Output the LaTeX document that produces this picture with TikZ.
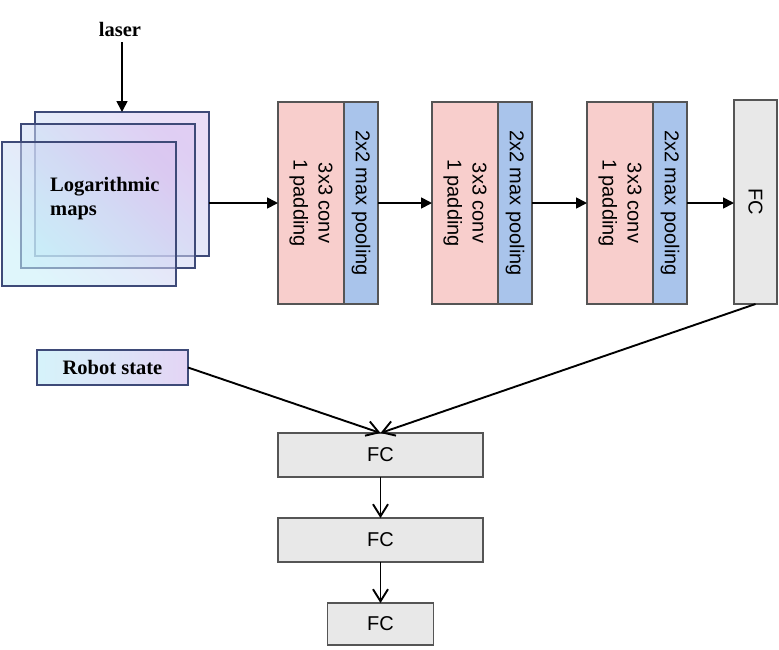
\documentclass[tikz,border=0pt]{standalone}
\usepackage{fontspec}
\setmainfont{Liberation Serif}
\setsansfont{Liberation Sans}
\usetikzlibrary{arrows.meta}
\definecolor{convred}{HTML}{F8CECC}
\definecolor{poolblue}{HTML}{A9C4EB}
\definecolor{fcgray}{HTML}{E8E8E8}
\definecolor{boxline}{HTML}{555555}
\definecolor{mapline}{HTML}{3E4A78}
\definecolor{mapcyan}{HTML}{C4EEF8}
\definecolor{mappurple}{HTML}{D8C2F0}
\tikzset{
  blk/.style={draw=boxline,line width=1.6pt,inner sep=0pt,outer sep=0pt,anchor=north west},   % plain box
  convbox/.style={blk,fill=convred,minimum width=66pt,minimum height=202pt},
  poolbox/.style={blk,fill=poolblue,minimum width=34pt,minimum height=202pt},
  fcbox/.style={blk,fill=fcgray,font=\sffamily\fontsize{20}{24}\selectfont},
  mapbox/.style={draw=mapline,line width=1.5pt,inner sep=0pt,outer sep=0pt,anchor=north west,
    minimum width=174pt,minimum height=144pt,left color=mapcyan,right color=mappurple,
    shading angle=135,fill opacity=0.55},
  robotbox/.style={draw=mapline,line width=1.5pt,inner sep=0pt,outer sep=0pt,anchor=north west,
    minimum width=151pt,minimum height=35pt,left color=mapcyan!70!white,right color=mappurple!70!white,
    font=\bfseries\fontsize{20.5}{24}\selectfont},
  sertext/.style={font=\bfseries\fontsize{20.5}{24}\selectfont,inner sep=0pt},
  rottext/.style={rotate=-90,align=center,inner sep=0pt,font=\sffamily\fontsize{20}{25}\selectfont},
  arr/.style={-{Triangle[length=11pt,width=11pt]},line width=1.7pt},
  openarr/.style={-{Straight Barb[length=12pt,width=15pt]},line width=1.9pt},
}

\begin{document}
\begin{tikzpicture}[x=1pt,y=-1pt]
  \useasboundingbox (0,0) rectangle (779,649);
  % input maps
  \node[mapbox] (map1) at (35,112) {};
  \node[mapbox] (map2) at (21,124) {};
  \node[mapbox] (map3) at (2,142) {};
  \node[sertext,anchor=west,align=left] (maptxt) at (50,199) {Logarithmic\\maps};
  \node[sertext,inner sep=6pt] (laser) at (120,29) {laser};
  \draw[arr] (laser.south -| map1.north) -- (map1.north);
  % conv + pooling blocks
  \foreach \i/\x in {1/278,2/432,3/587} {
    \node[convbox] (conv\i) at (\x,102) {};
    \node[poolbox] (pool\i) at (conv\i.north east) {};
    \node[rottext] at (conv\i.center) {3x3 conv\\1 padding};
    \node[rottext] at (pool\i.center) {2x2 max pooling};
  }
  \node[fcbox,minimum width=43pt,minimum height=204pt] (fc0) at (734,100) {};
  \node[rottext] at (fc0.center) {FC};
  \draw[arr] (map1.east |- conv1.west) -- (conv1.west);
  \draw[arr] (pool1.east) -- (conv2.west);
  \draw[arr] (pool2.east) -- (conv3.west);
  \draw[arr] (pool3.east) -- (pool3.east -| fc0.west);
  % robot state and fully connected head
  \node[robotbox] (robot) at (37,350) {Robot state};
  \node[fcbox,minimum width=205pt,minimum height=44pt] (fc1) at (278,433) {FC};
  \node[fcbox,minimum width=205pt,minimum height=44pt] (fc2) at (278,518) {FC};
  \node[fcbox,minimum width=106pt,minimum height=42pt] (fc3) at (327.5,603) {FC};
  \draw[openarr] (robot.east) -- (fc1.north);
  \draw[openarr] (fc0.south) -- (fc1.north);
  \draw[openarr] (fc1.south) -- (fc2.north);
  \draw[openarr] (fc2.south) -- (fc3.north);
\end{tikzpicture}
\end{document}
